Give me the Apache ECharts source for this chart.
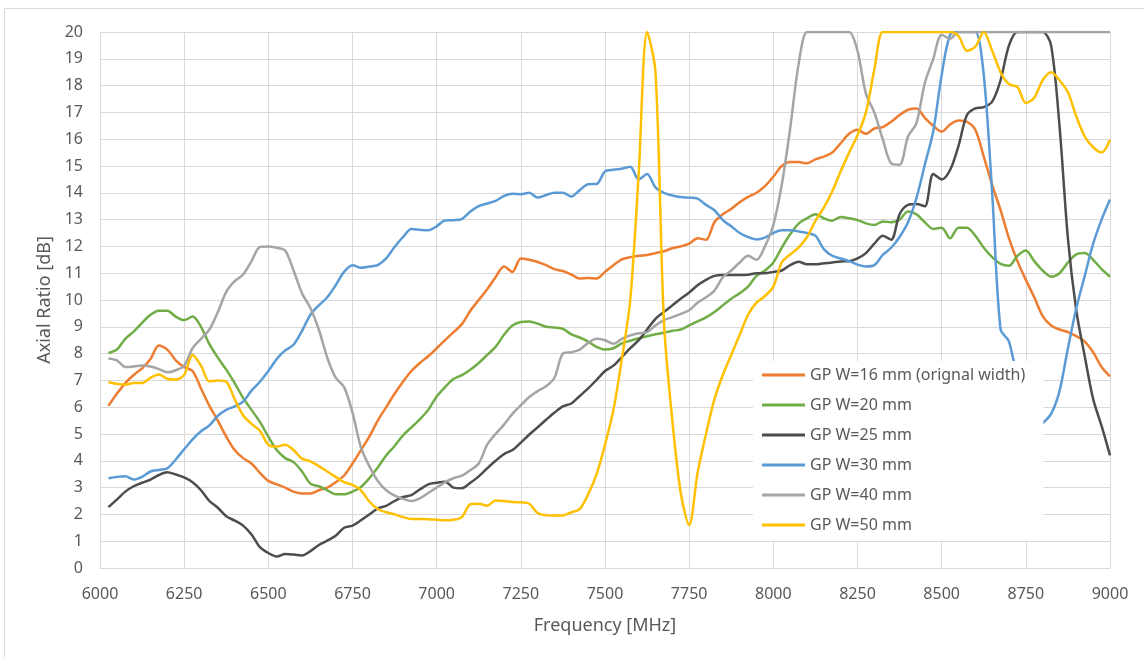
<!DOCTYPE html>
<html>
<head>
<meta charset="utf-8">
<title>Axial Ratio</title>
<script src="https://cdn.jsdelivr.net/npm/echarts@6/dist/echarts.min.js"></script>
<style>
  html, body { margin: 0; padding: 0; background: #fff; }
  #chart { width: 1144px; height: 657px; }
</style>
</head>
<body>
<div id="chart"></div>
<script>
// frequency samples [MHz]
var freqs = [
  6025, 6050, 6075, 6100, 6125, 6150, 6175, 6200, 6225, 6250,
  6275, 6300, 6325, 6350, 6375, 6400, 6425, 6450, 6475, 6500,
  6525, 6550, 6575, 6600, 6625, 6650, 6675, 6700, 6725, 6750,
  6775, 6800, 6825, 6850, 6875, 6900, 6925, 6950, 6975, 7000,
  7025, 7050, 7075, 7100, 7125, 7150, 7175, 7200, 7225, 7250,
  7275, 7300, 7325, 7350, 7375, 7400, 7425, 7450, 7475, 7500,
  7525, 7550, 7575, 7600, 7625, 7650, 7675, 7700, 7725, 7750,
  7775, 7800, 7825, 7850, 7875, 7900, 7925, 7950, 7975, 8000,
  8025, 8050, 8075, 8100, 8125, 8150, 8175, 8200, 8225, 8250,
  8275, 8300, 8325, 8350, 8375, 8400, 8425, 8450, 8475, 8500,
  8525, 8550, 8575, 8600, 8625, 8650, 8675, 8700, 8725, 8750,
  8775, 8800, 8825, 8850, 8875, 8900, 8925, 8950, 8975, 9000
];

// axial ratio [dB] per ground plane width
var w16 = [
  6.05, 6.5, 6.9, 7.2, 7.45, 7.8, 8.3, 8.15, 7.75, 7.5,
  7.35, 6.7, 6.05, 5.5, 4.9, 4.4, 4.1, 3.9, 3.55, 3.25,
  3.12, 3.0, 2.85, 2.78, 2.78, 2.9, 3.0, 3.2, 3.45, 3.9,
  4.4, 4.9, 5.5, 6.0, 6.5, 6.95, 7.35, 7.65, 7.9, 8.2,
  8.5, 8.8, 9.1, 9.6, 10.0, 10.4, 10.85, 11.25, 11.05, 11.55,
  11.5, 11.42, 11.3, 11.15, 11.08, 10.95, 10.8, 10.82, 10.8, 11.05,
  11.3, 11.52, 11.6, 11.65, 11.68, 11.75, 11.82, 11.93, 12.0, 12.1,
  12.3, 12.25, 12.9, 13.2, 13.4, 13.65, 13.85, 14.0, 14.25, 14.6,
  15.0, 15.15, 15.15, 15.1, 15.25, 15.35, 15.5, 15.85, 16.2, 16.35,
  16.2, 16.4, 16.45, 16.65, 16.9, 17.1, 17.15, 16.8, 16.5, 16.28,
  16.55, 16.7, 16.65, 16.35, 15.35, 14.3, 13.35, 12.3, 11.45, 10.75,
  10.1, 9.4, 9.05, 8.9, 8.8, 8.65, 8.45, 8.05, 7.5, 7.15
];
var w20 = [
  8.02, 8.15, 8.55, 8.82, 9.15, 9.45, 9.6, 9.6, 9.38, 9.25,
  9.38, 9.0, 8.35, 7.85, 7.4, 6.9, 6.35, 5.9, 5.45, 4.9,
  4.4, 4.1, 3.95, 3.6, 3.15, 3.05, 2.9, 2.75, 2.75, 2.85,
  3.02, 3.35, 3.75, 4.2, 4.55, 4.95, 5.25, 5.55, 5.9, 6.4,
  6.75, 7.05, 7.2, 7.4, 7.65, 7.95, 8.25, 8.7, 9.05, 9.18,
  9.2, 9.12, 9.0, 8.97, 8.92, 8.72, 8.6, 8.45, 8.25, 8.15,
  8.2, 8.38, 8.48, 8.57, 8.65, 8.72, 8.78, 8.85, 8.9, 9.05,
  9.2, 9.35, 9.55, 9.8, 10.05, 10.25, 10.5, 10.9, 11.1, 11.4,
  11.95, 12.45, 12.85, 13.05, 13.2, 13.05, 12.96, 13.1, 13.05, 12.98,
  12.86, 12.8, 12.93, 12.9, 13.0, 13.3, 13.2, 12.9, 12.65, 12.7,
  12.3, 12.7, 12.7, 12.4, 11.95, 11.6, 11.35, 11.28, 11.65, 11.85,
  11.45, 11.1, 10.87, 11.0, 11.4, 11.7, 11.75, 11.5, 11.15, 10.87
];
var w25 = [
  2.27, 2.55, 2.85, 3.05, 3.18, 3.3, 3.47, 3.57, 3.49, 3.38,
  3.2, 2.9, 2.5, 2.25, 1.93, 1.77, 1.58, 1.25, 0.78, 0.56,
  0.43, 0.52, 0.5, 0.47, 0.63, 0.86, 1.02, 1.2, 1.5, 1.58,
  1.78, 2.0, 2.22, 2.32, 2.5, 2.65, 2.72, 2.93, 3.12, 3.18,
  3.22, 3.0, 2.98, 3.18, 3.42, 3.72, 4.0, 4.25, 4.4, 4.68,
  4.98, 5.25, 5.53, 5.8, 6.03, 6.14, 6.42, 6.7, 7.02, 7.35,
  7.55, 7.87, 8.2, 8.5, 8.9, 9.3, 9.55, 9.8, 10.05, 10.28,
  10.55, 10.75, 10.9, 10.93, 10.93, 10.93, 10.94, 11.0, 11.0, 11.05,
  11.1, 11.3, 11.43, 11.33, 11.33, 11.37, 11.4, 11.44, 11.45, 11.55,
  11.75, 12.1, 12.4, 12.25, 13.2, 13.55, 13.58, 13.5, 14.7, 14.5,
  14.85, 15.75, 16.9, 17.15, 17.2, 17.4, 18.2, 19.5, 20, 20,
  20, 20, 19.5, 16.5, 12.3, 9.6, 7.9, 6.3, 5.3, 4.2
];
var w30 = [
  3.35, 3.4, 3.42, 3.3, 3.4, 3.6, 3.66, 3.72, 4.05, 4.43,
  4.8, 5.1, 5.32, 5.68, 5.9, 6.03, 6.21, 6.62, 6.95, 7.35,
  7.8, 8.12, 8.33, 8.85, 9.45, 9.8, 10.1, 10.55, 11.05, 11.3,
  11.2, 11.25, 11.3, 11.55, 11.98, 12.35, 12.65, 12.62, 12.6, 12.75,
  12.97, 12.98, 13.02, 13.3, 13.5, 13.6, 13.7, 13.88, 13.96, 13.95,
  14.0, 13.82, 13.92, 14.0, 14.0, 13.86, 14.1, 14.32, 14.33, 14.8,
  14.86, 14.9, 14.97, 14.5, 14.7, 14.2, 14.0, 13.9, 13.84, 13.82,
  13.78, 13.55, 13.35, 12.98, 12.75, 12.5, 12.35, 12.26, 12.33, 12.5,
  12.6, 12.6, 12.56, 12.5, 12.4, 11.9, 11.65, 11.55, 11.45, 11.32,
  11.25, 11.3, 11.68, 11.95, 12.35, 12.9, 13.8, 15.05, 16.3, 18.4,
  19.9, 20, 20, 20, 18.4, 14.0, 8.9, 8.45, 7.0, 5.6,
  5.1, 5.4, 5.75, 6.6, 8.2, 9.7, 10.9, 12.1, 13.0, 13.75
];
var w40 = [
  7.82, 7.75, 7.5, 7.52, 7.56, 7.52, 7.42, 7.3, 7.38, 7.55,
  8.2, 8.55, 8.9, 9.55, 10.3, 10.7, 10.95, 11.45, 11.98, 12.0,
  11.95, 11.85, 11.1, 10.25, 9.7, 8.9, 7.85, 7.1, 6.75, 5.8,
  4.5, 3.8, 3.25, 2.9, 2.7, 2.58, 2.5, 2.6, 2.8, 3.0,
  3.2, 3.35, 3.45, 3.65, 3.9, 4.6, 5.0, 5.35, 5.75, 6.07,
  6.38, 6.6, 6.78, 7.1, 8.0, 8.05, 8.15, 8.4, 8.55, 8.5,
  8.37, 8.55, 8.68, 8.76, 8.8, 9.05, 9.25, 9.36, 9.48, 9.62,
  9.9, 10.1, 10.35, 10.85, 11.1, 11.4, 11.65, 11.5, 12.0, 12.8,
  14.3, 16.4, 18.8, 20, 20, 20, 20, 20, 20, 19.3,
  17.7, 17.0, 16.0, 15.1, 15.05, 16.1, 16.6, 18.1, 19.0, 19.9,
  19.75, 20, 20, 20, 20, 20, 20, 20, 20, 20,
  20, 20, 20, 20, 20, 20, 20, 20, 20, 20
];
var w50 = [
  6.94, 6.87, 6.84, 6.9, 6.9, 7.1, 7.22, 7.06, 7.03, 7.2,
  7.95, 7.55, 6.96, 7.0, 6.95, 6.3, 5.7, 5.38, 5.12, 4.6,
  4.53, 4.6, 4.4, 4.08, 3.98, 3.8, 3.6, 3.4, 3.2, 3.1,
  2.9, 2.48, 2.2, 2.08, 2.0, 1.9, 1.83, 1.83, 1.82, 1.8,
  1.78, 1.8, 1.9, 2.38, 2.4, 2.32, 2.52, 2.5, 2.46, 2.45,
  2.4, 2.05, 1.97, 1.96, 1.96, 2.08, 2.2, 2.75, 3.5, 4.6,
  5.9, 7.8, 10.0, 14.7, 20, 18.5, 9.2, 5.5, 2.8, 1.6,
  3.55, 5.0, 6.3, 7.2, 7.95, 8.7, 9.45, 9.9, 10.15, 10.5,
  11.4, 11.7, 11.95, 12.35, 12.95, 13.45, 14.05, 14.8, 15.5, 16.15,
  17.0, 18.6, 20, 20, 20, 20, 20, 20, 20, 20,
  20, 19.85, 19.3, 19.45, 20, 19.3, 18.5, 18.05, 17.95, 17.35,
  17.55, 18.2, 18.5, 18.2, 17.75, 16.85, 16.1, 15.7, 15.5, 15.98
];

var seriesNames = [
  'GP W=16 mm (orignal width)',
  'GP W=20 mm',
  'GP W=25 mm',
  'GP W=30 mm',
  'GP W=40 mm',
  'GP W=50 mm'
];
var seriesValues = [w16, w20, w25, w30, w40, w50];
var colors = ['#ED7D31', '#70AD47', '#4D4D4D', '#5B9BD5', '#A5A5A5', '#FFC000'];

var textColor = '#595959';
var gridColor = '#D9D9D9';
var font = 'Noto Sans';

var chart = echarts.init(document.getElementById('chart'));

var series = seriesNames.map(function (name, k) {
  return {
    name: name,
    type: 'line',
    showSymbol: false,
    smooth: 0.3,
    clip: true,
    lineStyle: { width: 2.5, color: colors[k] },
    itemStyle: { color: colors[k] },
    data: freqs.map(function (f, i) { return [f, seriesValues[k][i]]; })
  };
});

var option = {
  backgroundColor: '#fff',
  animation: false,
  color: colors,
  graphic: [{
    type: 'rect',
    shape: { x: 4.5, y: 8.5, width: 1160, height: 670 },
    style: { fill: 'none', stroke: gridColor, lineWidth: 1 },
    silent: true
  }],
  grid: { left: 100, right: 34, top: 32, bottom: 89 },
  legend: {
    orient: 'vertical',
    left: 753,
    top: 361,
    backgroundColor: '#fff',
    padding: [4, 18, 6, 9],
    icon: 'rect',
    itemWidth: 43,
    itemHeight: 3,
    itemGap: 10,
    textStyle: { fontSize: 16, color: textColor, fontFamily: font, lineHeight: 20 },
    data: seriesNames
  },
  xAxis: {
    type: 'value',
    min: 6000,
    max: 9000,
    interval: 250,
    name: 'Frequency [MHz]',
    nameLocation: 'middle',
    nameGap: 49,
    nameTextStyle: { fontSize: 18, color: textColor, fontFamily: font },
    axisLine: { lineStyle: { color: gridColor, width: 1 } },
    axisTick: { show: false },
    axisLabel: {
      fontSize: 16, color: textColor, fontFamily: font, margin: 18,
      formatter: function (v) { return String(v); }
    },
    splitLine: { show: true, lineStyle: { color: gridColor, width: 1 } }
  },
  yAxis: {
    type: 'value',
    min: 0,
    max: 20,
    interval: 1,
    name: 'Axial Ratio [dB]',
    nameLocation: 'middle',
    nameGap: 46,
    nameTextStyle: { fontSize: 18, color: textColor, fontFamily: font },
    axisLine: { show: false },
    axisTick: { show: false },
    axisLabel: { fontSize: 16, color: textColor, fontFamily: font, margin: 17 },
    splitLine: { show: true, lineStyle: { color: gridColor, width: 1 } }
  },
  series: series
};

chart.setOption(option);
</script>
</body>
</html>
